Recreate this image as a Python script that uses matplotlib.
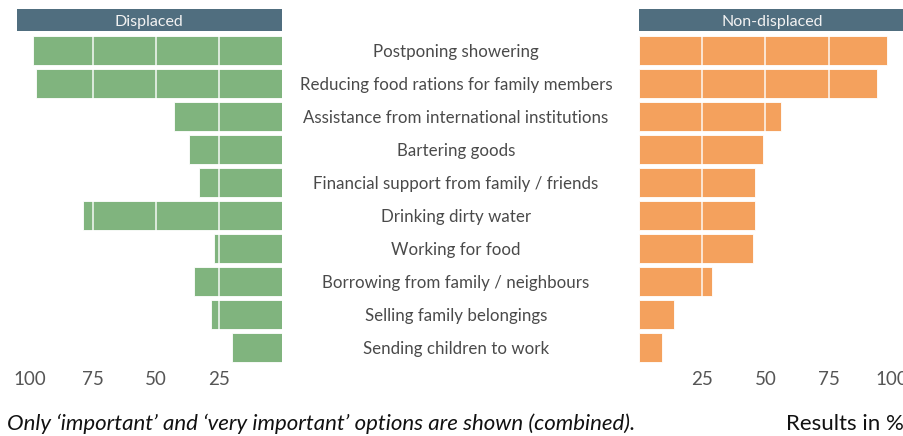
import matplotlib.pyplot as plt
import numpy as np

plt.rcParams['font.family'] = ['Lato', 'DejaVu Sans']

# Data (percent, 'important' + 'very important')
options = ['Postponing showering',
           'Reducing food rations for family members',
           'Assistance from international institutions',
           'Bartering goods',
           'Financial support from family / friends',
           'Drinking dirty water',
           'Working for food',
           'Borrowing from family / neighbours',
           'Selling family belongings',
           'Sending children to work']
displaced = [99, 97.5, 43, 37, 33, 79, 27, 35, 28, 20]
non_displaced = [98, 94, 56, 49, 46, 46, 45, 29, 14, 9]
ticks_left = [100, 75, 50, 25]
ticks_right = [25, 50, 75, 100]

green = '#80b47e'
orange = '#f4a15d'
header_col = '#506e7f'

W, H = 904, 436
fig = plt.figure(figsize=(W / 100, H / 100), dpi=100)

def px_axes(x0, y0, x1, y1):
    return fig.add_axes([x0 / W, 1 - y1 / H, (x1 - x0) / W, (y1 - y0) / H])

y = np.arange(len(options))

axL = px_axes(16.7, 34, 282, 364)
axR = px_axes(639, 34, 904.6, 364)

for ax, vals, col, ticks in [(axL, displaced, green, ticks_left),
                             (axR, non_displaced, orange, ticks_right)]:
    ax.barh(y, vals, height=0.88, color=col, edgecolor='#ffffff', linewidth=0.6, zorder=2)
    for t in [25, 50, 75, 100]:
        ax.axvline(t, color='white', lw=1.2, alpha=0.85, zorder=3)
    ax.set_ylim(9.5, -0.5)
    ax.set_xticks(ticks)
    ax.set_xticklabels([str(t) for t in ticks])
    ax.tick_params(axis='x', length=0, pad=5, labelsize=13.5, labelcolor='#555555')
    ax.set_yticks([])
    for s in ax.spines.values():
        s.set_visible(False)

axL.set_xlim(105.3, 0)
axR.set_xlim(0, 105)

# headers
for (x0, x1, title) in [(16.7, 282, 'Displaced'), (639, 904.6, 'Non-displaced')]:
    hax = px_axes(x0, 9, x1, 31)
    hax.set_facecolor(header_col)
    hax.set_xticks([])
    hax.set_yticks([])
    for s in hax.spines.values():
        s.set_visible(False)
    hax.text(0.5, 0.42, title, color='#f2f2f2', fontsize=11.5, ha='center', va='center',
             transform=hax.transAxes)

# center labels
for i, lab in enumerate(options):
    yy = 34 + 33 * (i + 0.5) + 1.5
    fig.text(456 / W, 1 - yy / H, lab, ha='center', va='center', fontsize=12.2, color='#4a4a4a')

fig.text(7 / W, 1 - 424 / H, "Only \u2018important\u2019 and \u2018very important\u2019 options are shown (combined).",
         ha='left', va='center', fontsize=16, style='italic', color='#111111')
fig.text(904 / W, 1 - 424 / H, 'Results in %', ha='right', va='center', fontsize=16, color='#111111')

fig.savefig('out.png', dpi=100)
